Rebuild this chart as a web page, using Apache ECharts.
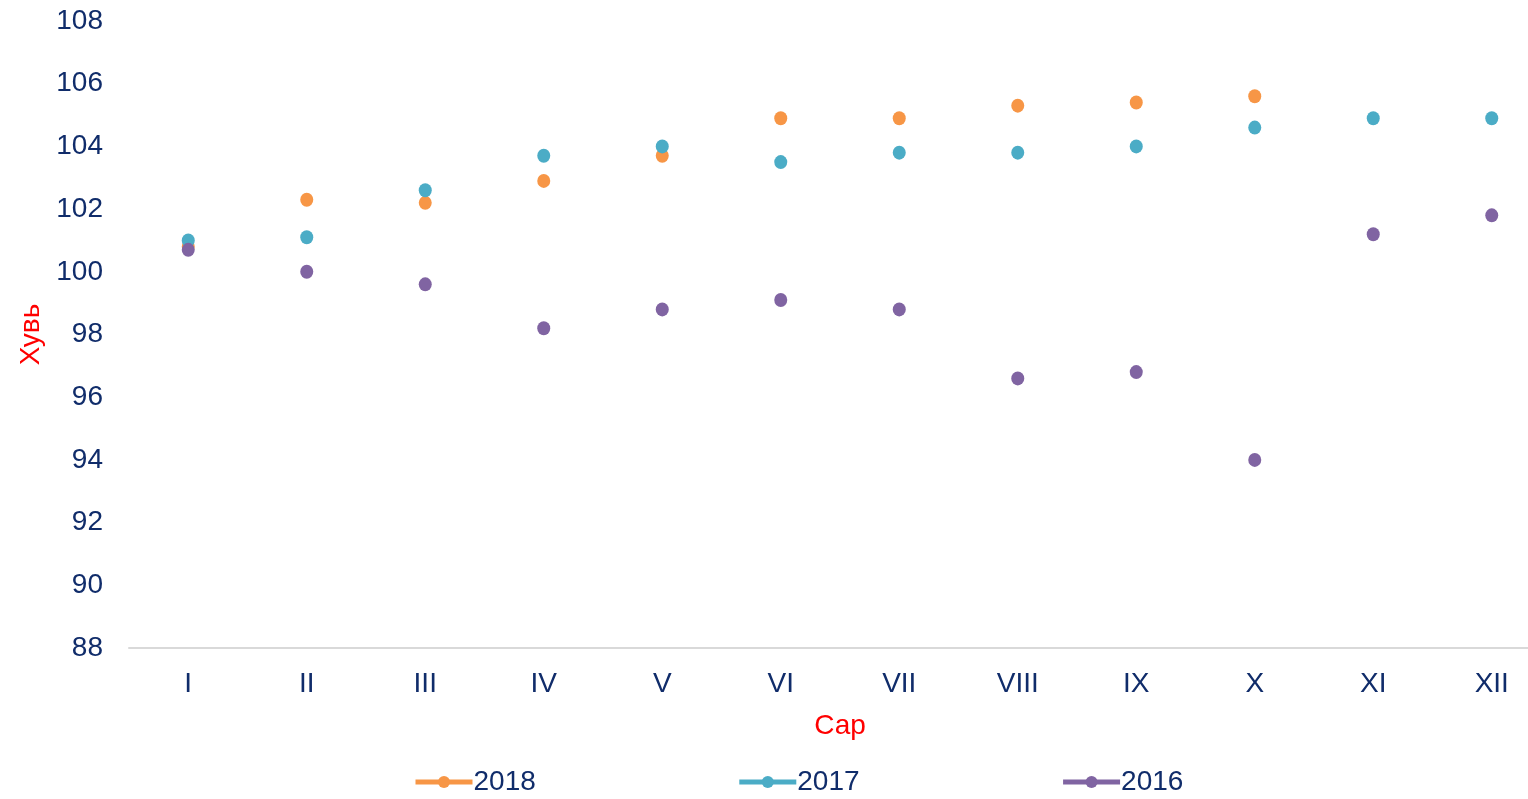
<!DOCTYPE html>
<html><head><meta charset="utf-8">
<script src="https://cdn.jsdelivr.net/npm/echarts@6/dist/echarts.min.js"></script>
<style>html,body{margin:0;padding:0;background:#fff;overflow:hidden}#c{width:1551px;height:799px}</style>
</head><body><div id="c"></div>
<script>
const months = ['I','II','III','IV','V','VI','VII','VIII','IX','X','XI','XII'];
const s2018 = [100.8, 102.3, 102.2, 102.9, 103.7, 104.9, 104.9, 105.3, 105.4, 105.6, null, null];
const s2017 = [101.0, 101.1, 102.6, 103.7, 104.0, 103.5, 103.8, 103.8, 104.0, 104.6, 104.9, 104.9];
const s2016 = [100.7, 100.0, 99.6, 98.2, 98.8, 99.1, 98.8, 96.6, 96.8, 94.0, 101.2, 101.8];
const seriesNames = ['2018','2017','2016'];
const colors = ['#F79646','#4BACC6','#8064A2'];
const textColor = '#102C6A';
const font = 'Liberation Sans, Arial, sans-serif';

const chart = echarts.init(document.getElementById('c'));
const mk = (name, data, color) => ({
  name, type:'line', data, color,
  symbol:'circle', symbolSize:[13,14],
  lineStyle:{opacity:0, width:5, color},
  itemStyle:{color},
  connectNulls:false, animation:false
});
chart.setOption({
  animation:false,
  grid:{left:129, right:0, top:21, height:627, containLabel:false},
  legend:{
    top:763, left:408, itemGap:201, itemWidth:57, itemHeight:15,
    textStyle:{color:textColor, fontSize:28, fontFamily:font, padding:[0,0,0,-4]},
    lineStyle:{opacity:1, width:5},
    data:seriesNames
  },
  xAxis:{
    type:'category', data:months, boundaryGap:true,
    name:'Сар', nameLocation:'middle', nameGap:64,
    nameTextStyle:{color:'#FF0000', fontSize:28, fontFamily:font},
    axisLine:{show:true, lineStyle:{color:'#D9D9D9', width:2}},
    axisTick:{show:false},
    axisLabel:{color:textColor, fontSize:28, fontFamily:font, margin:22},
    splitLine:{show:false}
  },
  yAxis:{
    type:'value', min:88, max:108, interval:2,
    name:'Хувь', nameLocation:'middle', nameGap:84,
    nameTextStyle:{color:'#FF0000', fontSize:28, fontFamily:font},
    axisLine:{show:false}, axisTick:{show:false},
    axisLabel:{color:textColor, fontSize:28, fontFamily:font, margin:26},
    splitLine:{show:false}
  },
  series:[mk('2018', s2018, colors[0]), mk('2017', s2017, colors[1]), mk('2016', s2016, colors[2])]
});
</script></body></html>
